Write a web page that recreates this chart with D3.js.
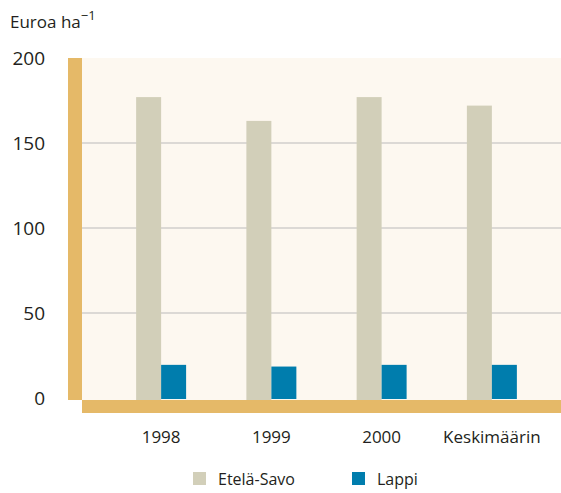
<!DOCTYPE html>
<html>
<head>
<meta charset="utf-8">
<script src="https://cdn.jsdelivr.net/npm/d3@7"></script>
<style>
  body { margin: 0; background: #fff; }
  text { font-family: 'Open Sans', sans-serif; fill: #231f20; }
</style>
</head>
<body>
<div id="chart"></div>
<script>
const categories = ['1998', '1999', '2000', 'Keskimäärin'];
const seriesNames = ['Etelä-Savo', 'Lappi'];
const eteläSavo = [177, 163, 177, 172];
const lappi = [19.5, 18.5, 19.5, 19.5];
const yTicks = [0, 50, 100, 150, 200];
const colors = ['#d2cfb9', '#007dad'];

const width = 561, height = 493;

const svg = d3.select('#chart')
  .append('svg')
  .attr('width', width)
  .attr('height', height);

const plot = { left: 82, right: 561, top: 58, bottom: 400 };

const y = d3.scaleLinear()
  .domain([0, 200])
  .range([398, 58]);

const x = d3.scaleBand()
  .domain(categories)
  .range([106, 547])
  .paddingInner(0.5467)
  .paddingOuter(0.2733);

const xSub = d3.scaleBand()
  .domain(seriesNames)
  .range([0, x.bandwidth()]);

// plot background
svg.append('rect')
  .attr('x', plot.left)
  .attr('y', plot.top)
  .attr('width', plot.right - plot.left)
  .attr('height', plot.bottom - plot.top)
  .attr('fill', '#fdf8f0');

// gridlines
svg.append('g')
  .selectAll('line')
  .data(yTicks.filter(d => d > 0 && d < 200))
  .join('line')
  .attr('x1', plot.left)
  .attr('x2', plot.right)
  .attr('y1', d => y(d))
  .attr('y2', d => y(d))
  .attr('stroke', '#d0cfcc')
  .attr('stroke-width', 1.5);

// left wall and floor
svg.append('rect')
  .attr('x', 68)
  .attr('y', plot.top)
  .attr('width', plot.left - 68)
  .attr('height', plot.bottom - plot.top)
  .attr('fill', '#e5b968');

svg.append('rect')
  .attr('x', plot.left)
  .attr('y', plot.bottom)
  .attr('width', plot.right - plot.left)
  .attr('height', 13)
  .attr('fill', '#e5b968');

// bars
const rows = categories.map((c, i) => ({ cat: c, values: [eteläSavo[i], lappi[i]] }));

const group = svg.append('g')
  .selectAll('g')
  .data(rows)
  .join('g')
  .attr('transform', d => `translate(${x(d.cat)},0)`);

group.selectAll('rect')
  .data(d => d.values.map((v, j) => ({ key: seriesNames[j], value: v, j })))
  .join('rect')
  .attr('x', d => xSub(d.key))
  .attr('y', d => y(d.value))
  .attr('width', xSub.bandwidth())
  .attr('height', d => (d.j === 0 ? 400 : 399) - y(d.value))
  .attr('fill', d => colors[d.j]);

// y tick labels
svg.append('g')
  .selectAll('text')
  .data(yTicks)
  .join('text')
  .attr('x', 45)
  .attr('y', d => y(d))
  .attr('dy', '0.35em')
  .attr('text-anchor', 'end')
  .attr('font-size', 19)
  .text(d => d);

// x labels
svg.append('g')
  .selectAll('text')
  .data(categories)
  .join('text')
  .attr('x', d => x(d) + x.bandwidth() / 2)
  .attr('y', 437)
  .attr('dy', '0.35em')
  .attr('text-anchor', 'middle')
  .attr('font-size', 17)
  .text(d => d);

// unit title
const title = svg.append('text')
  .attr('x', 10)
  .attr('y', 28)
  .attr('font-size', 17);
title.append('tspan').text('Euroa ha');
title.append('tspan').attr('dy', -8).attr('font-size', 13).text('−1');

// legend
const legend = svg.append('g')
  .selectAll('g')
  .data(seriesNames)
  .join('g')
  .attr('transform', (d, i) => `translate(${[193, 352][i]},472)`);

legend.append('rect')
  .attr('width', 13)
  .attr('height', 13)
  .attr('fill', (d, i) => colors[i]);

legend.append('text')
  .attr('x', 25)
  .attr('y', 7)
  .attr('dy', '0.35em')
  .attr('font-size', 16)
  .text(d => d);
</script>
</body>
</html>
